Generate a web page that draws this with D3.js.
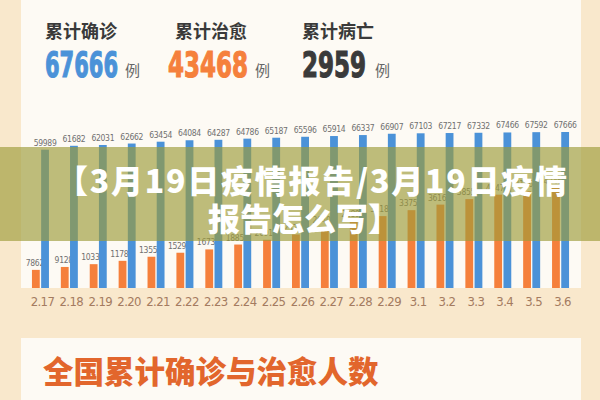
<!DOCTYPE html>
<html>
<head>
<meta charset="utf-8">
<script src="https://cdn.jsdelivr.net/npm/d3@7"></script>
<style>
	html, body { margin: 0; padding: 0; background: #f9e8cc; }
	svg { display: block; }
	.axis text { font-family: "Liberation Sans Narrow", "DejaVu Sans Condensed", "Liberation Sans", sans-serif; }
	.cjk { font-family: "Noto Sans CJK SC", sans-serif; }
</style>
</head>
<body>
<div id="chart"></div>
<script>
// Hubei cumulative numbers, 2.17 - 3.6
var dates = ['2.17', '2.18', '2.19', '2.20', '2.21', '2.22', '2.23', '2.24', '2.25', '2.26',
	'2.27', '2.28', '2.29', '3.1', '3.2', '3.3', '3.4', '3.5', '3.6'];
var confirmed = [59989, 61682, 62031, 62662, 63454, 64084, 64287, 64786, 65187, 65596,
	65914, 66337, 66907, 67103, 67217, 67332, 67466, 67592, 67666];
var cured = [7862, 9128, 10337, 11788, 13557, 15299, 16738, 18854, 20912, 23200,
	26403, 28895, 31187, 33757, 36167, 38556, 40479, 41966, 43468];

var statLabels = ['累计确诊', '累计治愈', '累计病亡'];
var statValues = ['67666', '43468', '2959'];

var COLORS = {
	blue: '#4b92d8',
	orange: '#f5803c',
	dark: '#3a3a3a',
	panel: '#fdfaf4',
	page: '#f9e8cc'
};

var width = 600;
var height = 400;

var svg = d3.select('#chart')
	.append('svg')
	.attr('width', width)
	.attr('height', height);

svg.append('rect')
	.attr('width', width)
	.attr('height', height)
	.attr('fill', COLORS.page);

// panels
svg.append('rect')
	.attr('x', 21).attr('y', 0)
	.attr('width', 560).attr('height', 288)
	.attr('fill', COLORS.panel);

svg.append('rect')
	.attr('x', 21).attr('y', 338)
	.attr('width', 560).attr('height', 62)
	.attr('fill', COLORS.panel);

/*
 * Header stats
 */
var statX = [45, 168, 302];
var statW = [73, 80, 64];
var labelX = [45, 175, 302];
var unitX = [125, 255, 375];
var statColors = [COLORS.blue, COLORS.orange, COLORS.dark];

var stats = svg.append('g').attr('class', 'stats');

stats.selectAll('text.stat-label')
	.data(statLabels)
	.enter()
	.append('text')
	.attr('class', 'stat-label cjk')
	.attr('x', function(d, i) { return labelX[i]; })
	.attr('y', 38)
	.attr('font-size', 18)
	.attr('font-weight', 700)
	.attr('fill', COLORS.dark)
	.text(function(d) { return d; });

// squeeze the big numbers horizontally so they look like a heavy condensed face
stats.selectAll('text.stat-value')
	.data(statValues)
	.enter()
	.append('text')
	.attr('class', 'stat-value')
	.attr('font-family', '"DejaVu Sans", "Liberation Sans", sans-serif')
	.attr('font-size', 35)
	.attr('font-weight', 700)
	.attr('fill', function(d, i) { return statColors[i]; })
	.attr('stroke', function(d, i) { return statColors[i]; })
	.attr('stroke-width', 1.2)
	.text(function(d) { return d; })
	.each(function(d, i) {
		var natural = this.getComputedTextLength();
		var sx = statW[i] / natural;
		d3.select(this).attr('transform',
			'translate(' + statX[i] + ',77) scale(' + sx + ',1)');
	});

stats.selectAll('text.stat-unit')
	.data(statValues)
	.enter()
	.append('text')
	.attr('class', 'stat-unit cjk')
	.attr('x', function(d, i) { return unitX[i]; })
	.attr('y', 76)
	.attr('font-size', 15)
	.attr('fill', '#666')
	.text('例');

/*
 * Bar chart
 */
var baseline = 288;

var xScale = d3.scaleBand()
	.domain(dates)
	.range([26, 575])
	.padding(0);

var xInner = d3.scaleBand()
	.domain(['cured', 'confirmed'])
	.range([-8.5, 8.5])
	.paddingInner(0.15);

var yScale = d3.scaleLinear()
	.domain([0, d3.max(confirmed)])
	.range([baseline, 132]);

var rows = dates.map(function(d, i) {
	return { date: d, cured: cured[i], confirmed: confirmed[i] };
});

var groups = svg.append('g')
	.attr('class', 'bars')
	.selectAll('g')
	.data(rows)
	.enter()
	.append('g')
	.attr('transform', function(d) {
		return 'translate(' + (xScale(d.date) + xScale.bandwidth() / 2) + ',0)';
	});

['cured', 'confirmed'].forEach(function(key) {
	var color = key == 'cured' ? COLORS.orange : COLORS.blue;

	groups.append('rect')
		.attr('x', xInner(key))
		.attr('width', xInner.bandwidth())
		.attr('y', function(d) { return yScale(d[key]); })
		.attr('height', function(d) { return baseline - yScale(d[key]); })
		.attr('fill', color);

	groups.append('text')
		.attr('x', xInner(key) + xInner.bandwidth() / 2 - (key == 'cured' ? 1 : 0))
		.attr('y', function(d) { return yScale(d[key]) - 4; })
		.attr('text-anchor', 'middle')
		.attr('font-family', '"Liberation Sans Narrow", "DejaVu Sans Condensed", sans-serif')
		.attr('font-size', 8.5)
		.attr('letter-spacing', -0.3)
		.attr('fill', '#707070')
		.text(function(d) { return d[key]; });
});

var xAxis = d3.axisBottom(xScale).tickSize(0).tickPadding(0);

var axisG = svg.append('g')
	.attr('class', 'x axis')
	.attr('transform', 'translate(2,' + (baseline + 18) + ')')
	.call(xAxis);

axisG.select('.domain').remove();
axisG.selectAll('text')
	.attr('dy', 0)
	.attr('font-size', 13)
	.attr('letter-spacing', -0.6)
	.attr('fill', '#a47b60');

/*
 * Title banner overlay
 */
svg.append('rect')
	.attr('x', 0).attr('y', 147)
	.attr('width', width).attr('height', 94)
	.attr('fill', 'rgb(156,155,57)')
	.attr('fill-opacity', 0.65);

var banner = svg.append('g').attr('class', 'banner');

banner.append('text')
	.attr('class', 'cjk')
	.attr('x', 56)
	.attr('y', 193)
	.attr('textLength', 511)
	.attr('lengthAdjust', 'spacing')
	.attr('font-size', 32)
	.attr('font-weight', 900)
	.attr('fill', '#fff')
	.text('【3月19日疫情报告/3月19日疫情');

banner.append('text')
	.attr('class', 'cjk')
	.attr('x', 304)
	.attr('y', 231)
	.attr('text-anchor', 'middle')
	.attr('font-size', 32)
	.attr('font-weight', 900)
	.attr('fill', '#fff')
	.text('报告怎么写】');

/*
 * Bottom section title
 */
svg.append('text')
	.attr('class', 'cjk')
	.attr('x', 43)
	.attr('y', 383)
	.attr('font-size', 30.5)
	.attr('font-weight', 900)
	.attr('fill', '#e2662c')
	.text('全国累计确诊与治愈人数');
</script>
</body>
</html>
